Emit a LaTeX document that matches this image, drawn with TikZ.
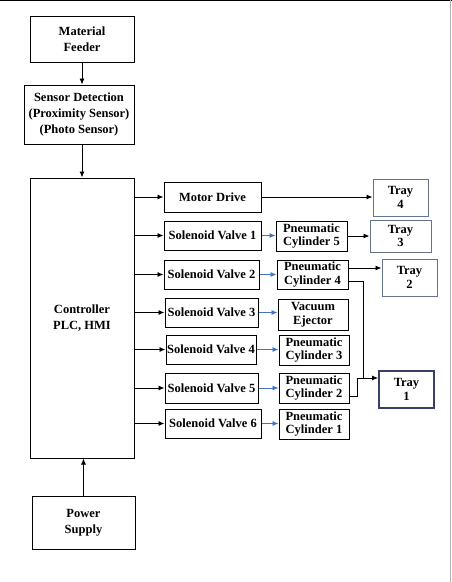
\documentclass[tikz,border=0pt]{standalone}
\usepackage{fontspec}
\setmainfont{Liberation Serif}
\usetikzlibrary{arrows.meta}
\definecolor{arrblue}{RGB}{68,114,196}
\definecolor{traygray}{RGB}{100,116,145}
\definecolor{traynavy}{RGB}{52,66,104}
\tikzset{
  box/.style={draw, line width=1pt, align=center, inner sep=1pt,
              font=\fontsize{12.5}{16}\selectfont\bfseries},
  sbox/.style={box, font=\fontsize{12.5}{13.5}\selectfont\bfseries},
  tray/.style={sbox, draw=traygray, line width=1pt},
  arr/.style={line width=0.9pt, -{Latex[length=6pt,width=5pt]}},
  barr/.style={arr, draw=arrblue, line width=0.8pt}
}
\begin{document}
\begin{tikzpicture}[x=1pt, y=-1pt]
    \useasboundingbox (0,0) rectangle (452,582);
    \draw[line width=1.5pt] (0,0.7) -- (452,0.7); % vora superior
    \draw[gray!60, line width=1pt] (450.5,0) -- (450.5,582);

    % Columna esquerra
    \node[box, minimum width=104pt, minimum height=46pt] (feeder) at (82,39) {Material\\Feeder};
    \node[box, minimum width=110pt, minimum height=59pt] (sensor) at (79,114.5) {Sensor Detection\\(Proximity Sensor)\\(Photo Sensor)};
    \node[box, minimum width=104pt, minimum height=280pt] (ctrl) at (82,318) {Controller\\PLC, HMI};
    \node[box, minimum width=103pt, minimum height=53pt] (power) at (83.5,522.5) {Power\\Supply};

    \draw[arr] (feeder) -- (feeder |- sensor.north);
    \draw[arr] ([xshift=3pt]sensor.south) -- ([xshift=3pt]sensor.south |- ctrl.north);
    \draw[arr] (power) -- (power |- ctrl.south);

    % Sortides del controlador
    \node[sbox, minimum width=97pt, minimum height=30pt] (motor) at (212.5,197) {Motor Drive};
    \node[sbox, minimum width=97pt, minimum height=29pt] (sv1) at (212.5,235.5) {Solenoid Valve 1};
    \node[sbox, minimum width=95pt, minimum height=29pt] (sv2) at (211.5,274.5) {Solenoid Valve 2};
    \node[sbox, minimum width=93pt, minimum height=29pt] (sv3) at (211.5,312.5) {Solenoid Valve 3};
    \node[sbox, minimum width=90pt, minimum height=29pt] (sv4) at (211,349.5) {Solenoid Valve 4};
    \node[sbox, minimum width=93pt, minimum height=30pt] (sv5) at (211.5,388) {Solenoid Valve 5};
    \node[sbox, minimum width=96pt, minimum height=29pt] (sv6) at (213,423.5) {Solenoid Valve 6};

    \foreach \v in {motor,sv1,sv2,sv3,sv4,sv5,sv6}
        \draw[arr] (ctrl.east |- \v) -- (\v.west);

    % Actuadors
    \node[sbox, minimum width=71pt, minimum height=30pt] (pc5) at (311.5,236) {Pneumatic\\Cylinder 5};
    \node[sbox, minimum width=71pt, minimum height=29pt] (pc4) at (312.5,274.5) {Pneumatic\\Cylinder 4};
    \node[sbox, minimum width=70pt, minimum height=31pt] (vac) at (313,314.5) {Vacuum\\Ejector};
    \node[sbox, minimum width=70pt, minimum height=30pt] (pc3) at (314,350) {Pneumatic\\Cylinder 3};
    \node[sbox, minimum width=70pt, minimum height=30pt] (pc2) at (314,388) {Pneumatic\\Cylinder 2};
    \node[sbox, minimum width=70pt, minimum height=30pt] (pc1) at (314,424) {Pneumatic\\Cylinder 1};

    \draw[barr] (sv1.east) -- (sv1.east -| pc5.west);
    \draw[barr] (sv2.east) -- (sv2.east -| pc4.west);
    \draw[barr] (sv3.east) -- (sv3.east -| vac.west);
    \draw[barr] (sv4.east) -- (sv4.east -| pc3.west);
    \draw[barr] (sv5.east) -- (sv5.east -| pc2.west);
    \draw[barr] (sv6.east) -- (sv6.east -| pc1.west);

    % Safates
    \node[tray, minimum width=55pt, minimum height=37pt] (tray4) at (400.5,197.5) {Tray\\4};
    \node[tray, minimum width=61pt, minimum height=32pt] (tray3) at (400.5,236) {Tray\\3};
    \node[tray, minimum width=55pt, minimum height=37pt] (tray2) at (409.5,277.5) {Tray\\2};
    \node[tray, draw=traynavy, line width=1.8pt, minimum width=55pt, minimum height=37pt] (tray1) at (406.5,389.5) {Tray\\1};

    \draw[arr] (motor.east) -- (motor.east -| tray4.west);
    \draw[arr] (pc5.east) -- (pc5.east -| tray3.west);
    \draw[arr] ([yshift=6.5pt]pc4.east) -- ([yshift=6.5pt]pc4.east -| tray2.west);
    \coordinate (merge) at (363,378);
    \draw[line width=0.9pt] ([yshift=-6.5pt]pc4.east) -| (merge);
    \draw[line width=0.9pt] ([yshift=-8pt]pc2.east) -- ++(8,0) |- (merge);
    \draw[arr] (merge) -- (merge -| tray1.west);
\end{tikzpicture}
\end{document}
